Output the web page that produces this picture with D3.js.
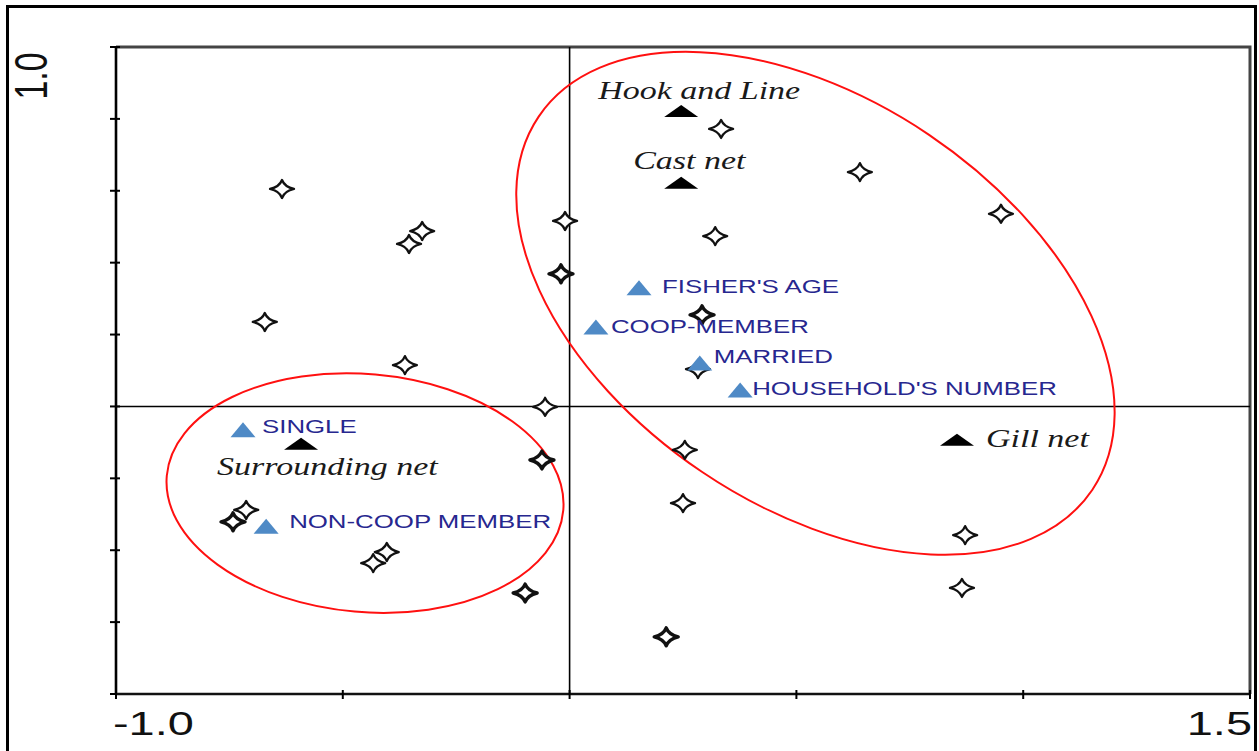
<!DOCTYPE html>
<html>
<head>
<meta charset="utf-8">
<script src="https://cdn.jsdelivr.net/npm/d3@7"></script>
<style>
  html, body { margin: 0; padding: 0; background: #fff; }
  svg { display: block; }
</style>
</head>
<body>
<div id="chart"></div>
<script>
// sample sites (stars), ordination scores
var siteX = [-0.634, -0.354, -0.325, -0.010, -0.019, -0.672, -0.363, -0.054, 0.334, 0.640, 0.951, 0.321, 0.292, 0.283, -0.061, 0.254, 0.250, 0.213, 0.872, 0.865, -0.742, -0.713, -0.433, -0.403, -0.098]
var siteY = [0.605, 0.452, 0.488, 0.516, 0.369, 0.235, 0.115, -0.001, 0.772, 0.652, 0.536, 0.474, 0.255, 0.104, -0.149, -0.121, -0.269, -0.641, -0.358, -0.505, -0.321, -0.288, -0.436, -0.405, -0.519]
var siteCount = [1, 1, 1, 1, 2, 1, 1, 1, 1, 1, 1, 1, 2, 1, 2, 1, 1, 2, 1, 1, 2, 1, 1, 1, 2]

// fishing gear (black triangles)
var gearNames = ['Hook and Line', 'Cast net', 'Gill net', 'Surrounding net']
var gearX = [0.246, 0.246, 0.854, -0.592]
var gearY = [0.822, 0.622, -0.093, -0.104]

// fisher variables (blue triangles)
var varNames = ["FISHER'S AGE", 'COOP-MEMBER', 'MARRIED', "HOUSEHOLD'S NUMBER", 'SINGLE', 'NON-COOP MEMBER']
var varX = [0.153, 0.058, 0.287, 0.376, -0.720, -0.669]
var varY = [0.330, 0.221, 0.121, 0.046, -0.065, -0.333]

// groups circled in red: centre, semi axes (x units), tilt
var groupCx = [0.542, -0.451]
var groupCy = [0.287, -0.241]
var groupRa = [0.736, 0.4387]
var groupRb = [0.448, 0.2623]
var groupTilt = [34, 5]

var xDomain = [-1.0, 1.5]
var yDomain = [-0.8, 1.0]
var yTicks = [-0.8, -0.6, -0.4, -0.2, 0, 0.2, 0.4, 0.6, 0.8, 1.0]
var xTicks = [-1.0, -0.5, 0, 0.5, 1.0, 1.5]

var width = 1259
var height = 751
var sx = 1.38 // the picture is stretched sideways
var fmt = function (v) { return d3.format('.1f')(v).replace('\u2212', '-') }

var svg = d3.select('#chart').append('svg')
  .attr('width', width)
  .attr('height', height)

var x = d3.scaleLinear().domain(xDomain).range([116, 1250])
var y = d3.scaleLinear().domain(yDomain).range([694, 47])

// outer frame
svg.append('rect')
  .attr('x', 7.5).attr('y', 6.5)
  .attr('width', 1248).attr('height', 780)
  .attr('fill', 'none').attr('stroke', '#000').attr('stroke-width', 3)

// top and right frame lines
svg.append('path')
  .attr('d', 'M' + x(xDomain[0]) + ',' + y(yDomain[1]) + 'H' + x(xDomain[1]) + 'V' + y(yDomain[0]))
  .attr('fill', 'none').attr('stroke', '#444').attr('stroke-width', 3)

// zero lines
svg.append('line')
  .attr('x1', x(0)).attr('x2', x(0))
  .attr('y1', y(yDomain[1])).attr('y2', y(yDomain[0]))
  .attr('stroke', '#000').attr('stroke-width', 1.6)
svg.append('line')
  .attr('x1', x(xDomain[0])).attr('x2', x(xDomain[1]))
  .attr('y1', y(0)).attr('y2', y(0))
  .attr('stroke', '#000').attr('stroke-width', 1.6)

// left axis
svg.append('line')
  .attr('x1', x(xDomain[0])).attr('x2', x(xDomain[0]))
  .attr('y1', y(yDomain[1])).attr('y2', y(yDomain[0]))
  .attr('stroke', '#000').attr('stroke-width', 2.6)
svg.selectAll('.ytick').data(yTicks).enter().append('line')
  .attr('class', 'ytick')
  .attr('x1', x(xDomain[0]) - 6).attr('x2', x(xDomain[0]) + 4)
  .attr('y1', function (d) { return y(d) }).attr('y2', function (d) { return y(d) })
  .attr('stroke', '#000').attr('stroke-width', 2)

// bottom axis
svg.append('line')
  .attr('x1', x(xDomain[0]) - 1).attr('x2', x(xDomain[1]))
  .attr('y1', y(yDomain[0])).attr('y2', y(yDomain[0]))
  .attr('stroke', '#111').attr('stroke-width', 2.4)
svg.selectAll('.xtick').data(xTicks).enter().append('line')
  .attr('class', 'xtick')
  .attr('x1', function (d) { return x(d) }).attr('x2', function (d) { return x(d) })
  .attr('y1', y(yDomain[0]) - 4).attr('y2', y(yDomain[0]) + 5)
  .attr('stroke', '#000').attr('stroke-width', 2)

// axis labels (only the ends are printed)
svg.append('text')
  .attr('transform', 'translate(47,' + (y(yDomain[1]) + 29) + ') scale(' + sx + ',1) rotate(-90)')
  .attr('text-anchor', 'middle')
  .style('font-family', 'Liberation Sans, Arial, sans-serif')
  .style('font-size', '34px')
  .attr('fill', '#111')
  .text(fmt(yDomain[1]))
svg.append('text')
  .attr('transform', 'translate(' + (x(xDomain[0]) - 3) + ',735) scale(' + sx + ',1)')
  .attr('text-anchor', 'start')
  .style('font-family', 'Liberation Sans, Arial, sans-serif')
  .style('font-size', '34px')
  .attr('fill', '#111')
  .text(fmt(xDomain[0]))
svg.append('text')
  .attr('transform', 'translate(' + (x(xDomain[1]) + 2) + ',735) scale(' + sx + ',1)')
  .attr('text-anchor', 'end')
  .style('font-family', 'Liberation Sans, Arial, sans-serif')
  .style('font-size', '34px')
  .attr('fill', '#111')
  .text(fmt(xDomain[1]))

// red ellipses
var pxPerUnit = x(1) - x(0)
svg.selectAll('.group').data(groupCx).enter().append('ellipse')
  .attr('class', 'group')
  .attr('cx', 0).attr('cy', 0)
  .attr('rx', function (d, i) { return groupRa[i] * pxPerUnit })
  .attr('ry', function (d, i) { return groupRb[i] * pxPerUnit })
  .attr('transform', function (d, i) {
    return 'translate(' + x(groupCx[i]) + ',' + y(groupCy[i]) + ') rotate(' + groupTilt[i] + ')'
  })
  .attr('fill', 'none').attr('stroke', '#ff1010').attr('stroke-width', 2)

// stars for the sites
var star = 'M12,0 Q2.6,2.2 0,9 Q-2.6,2.2 -12,0 Q-2.6,-2.2 0,-9 Q2.6,-2.2 12,0 Z'
svg.selectAll('.site').data(siteX).enter().append('path')
  .attr('class', 'site')
  .attr('d', star)
  .attr('transform', function (d, i) { return 'translate(' + x(siteX[i]) + ',' + y(siteY[i]) + ')' })
  .attr('fill', '#fff')
  .attr('stroke', '#111')
  .attr('stroke-width', function (d, i) { return siteCount[i] > 1 ? 3.4 : 2.3 })
  .attr('stroke-linejoin', 'round')

// gear markers
svg.selectAll('.gear').data(gearNames).enter().append('path')
  .attr('class', 'gear')
  .attr('d', 'M-17,6 L0,-6 L17,6 Z')
  .attr('transform', function (d, i) { return 'translate(' + x(gearX[i]) + ',' + y(gearY[i]) + ')' })
  .attr('fill', '#000')

var gearLabelPos = {
  'Hook and Line': [-83, -12],
  'Cast net': [-48, -14],
  'Gill net': [29, 7],
  'Surrounding net': [-84, 31]
}
svg.selectAll('.gearLabel').data(gearNames).enter().append('text')
  .attr('class', 'gearLabel')
  .attr('transform', function (d, i) {
    var p = gearLabelPos[d]
    return 'translate(' + (x(gearX[i]) + p[0]) + ',' + (y(gearY[i]) + p[1]) + ') scale(1.36,1)'
  })
  .style('font-family', 'Liberation Serif, Times New Roman, serif')
  .style('font-style', 'italic')
  .style('font-size', '25px')
  .attr('fill', '#1a1a1a')
  .text(function (d) { return d })

// variable markers
svg.selectAll('.var').data(varNames).enter().append('path')
  .attr('class', 'var')
  .attr('d', 'M-12.5,7.5 L0,-7.5 L12.5,7.5 Z')
  .attr('transform', function (d, i) { return 'translate(' + x(varX[i]) + ',' + y(varY[i]) + ')' })
  .attr('fill', '#4f8ac6')

var varLabelPos = {
  "FISHER'S AGE": [23, 5],
  'COOP-MEMBER': [15, 6],
  'MARRIED': [14, 0],
  "HOUSEHOLD'S NUMBER": [12, 5],
  'SINGLE': [19, 3],
  'NON-COOP MEMBER': [23, 2]
}
svg.selectAll('.varLabel').data(varNames).enter().append('text')
  .attr('class', 'varLabel')
  .attr('transform', function (d, i) {
    var p = varLabelPos[d]
    return 'translate(' + (x(varX[i]) + p[0]) + ',' + (y(varY[i]) + p[1]) + ') scale(1.36,1)'
  })
  .style('font-family', 'Liberation Sans, Arial, sans-serif')
  .style('font-size', '19px')
  .attr('fill', '#27278f')
  .text(function (d) { return d })
</script>
</body>
</html>
